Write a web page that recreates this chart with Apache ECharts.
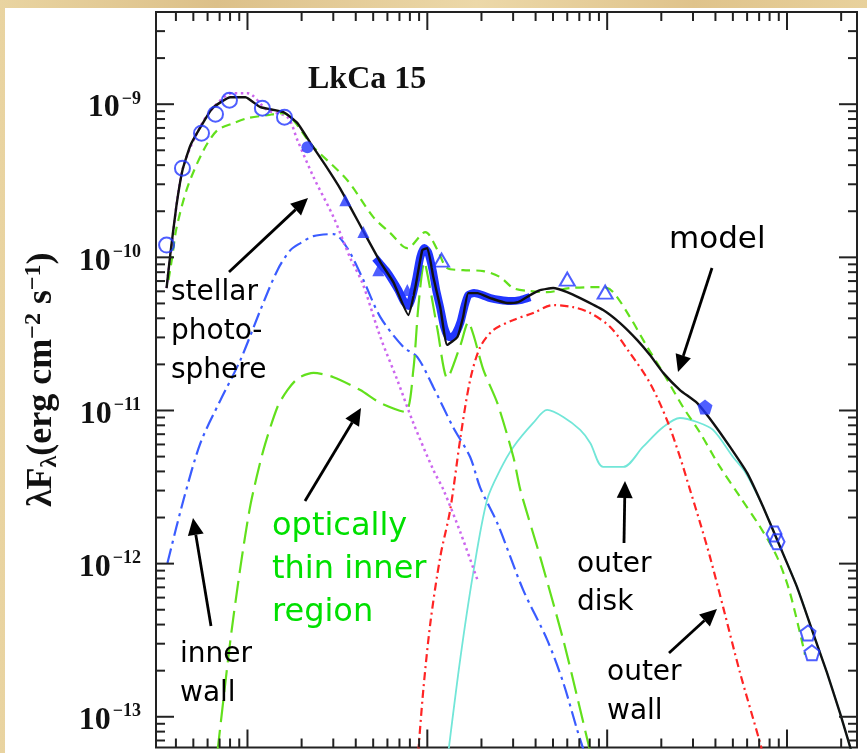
<!DOCTYPE html>
<html>
<head>
<meta charset="utf-8">
<script src="https://cdn.jsdelivr.net/npm/echarts@6/dist/echarts.min.js"></script>
<style>
  html, body { margin: 0; padding: 0; }
  body {
    width: 867px; height: 753px; overflow: hidden; position: relative;
    background: linear-gradient(90deg, #e9d4a1 0%, #dcc089 25%, #ecd8a8 55%, #dfc38b 80%, #e8d19c 100%);
  }
  #chart { position: absolute; left: 5px; top: 8px; width: 862px; height: 745px; background: #fff; }
</style>
</head>
<body>
<div id="chart"></div>
<script>
// LkCa 15 spectral energy distribution: wavelength in µm, λFλ in erg cm^-2 s^-1

// Total disk model
const modelLam  = [0.355, 0.373, 0.403, 0.435, 0.482, 0.548, 0.639, 0.804, 0.975, 1.18, 1.585, 1.896, 2.24, 2.71, 3.29, 4.41, 5.48, 6.47, 7.85, 8.58, 9.38, 10.0, 10.8, 11.8, 12.9, 14.7, 15.8, 16.9, 19.0, 22.4, 27.8, 32.0, 37.3, 42.4, 50.1, 59.9, 70.8, 95.0, 118, 147, 173, 205, 254, 316, 388, 482, 600, 736, 915, 1136, 1395, 1668, 1970, 2268];
const modelFlux = [6.30e-11, 1.066e-10, 2.19e-10, 3.71e-10, 5.40e-10, 7.08e-10, 9.42e-10, 1.111e-9, 1.11e-9, 9.56e-10, 8.87e-10, 7.52e-10, 5.57e-10, 4.00e-10, 2.79e-10, 1.48e-10, 9.31e-11, 6.89e-11, 4.20e-11, 6.39e-11, 1.115e-10, 1.149e-10, 7.43e-11, 4.73e-11, 2.68e-11, 3.02e-11, 4.07e-11, 5.84e-11, 5.84e-11, 5.42e-11, 5.03e-11, 5.10e-11, 5.67e-11, 6.11e-11, 6.30e-11, 5.93e-11, 5.42e-11, 4.53e-11, 3.72e-11, 2.88e-11, 2.30e-11, 1.76e-11, 1.36e-11, 1.12e-11, 8.29e-12, 5.78e-12, 3.91e-12, 2.35e-12, 1.29e-12, 7.05e-13, 3.53e-13, 1.94e-13, 1.06e-13, 6.09e-14];

// Alternative model (short dashes)
const altLam  = [0.364, 0.383, 0.403, 0.464, 0.570, 0.681, 0.836, 1.0, 1.29, 1.565, 2.33, 3.59, 5.01, 6.23, 7.74, 9.75, 11.4, 12.9, 15.8, 20.5, 25.4, 30.1, 37.3, 46.4, 62.3, 95.0, 108, 134, 167, 205, 264, 329, 424, 548, 708, 880, 1039, 1259];
const altFlux = [7.11e-11, 1.034e-10, 1.552e-10, 2.87e-10, 5.01e-10, 6.77e-10, 7.52e-10, 8.10e-10, 8.48e-10, 8.74e-10, 5.24e-10, 3.19e-10, 1.83e-10, 1.44e-10, 1.149e-10, 1.462e-10, 1.115e-10, 8.51e-11, 8.25e-11, 8.13e-11, 7.43e-11, 6.30e-11, 6.02e-11, 5.93e-11, 6.30e-11, 6.39e-11, 5.93e-11, 4.07e-11, 2.60e-11, 1.76e-11, 1.054e-11, 7.13e-12, 4.28e-12, 2.73e-12, 1.74e-12, 1.107e-12, 6.44e-13, 2.54e-13];

// Optically thin inner region
const thinLam  = [0.681, 0.804, 0.914, 1.039, 1.227, 1.468, 1.668, 1.92, 2.33, 3.01, 4.24, 5.48, 7.55, 8.36, 8.91, 9.62, 10.4, 11.4, 12.9, 15.3, 16.9, 18.2, 20.5, 24.5, 30.1, 32.9, 42.4, 57.0, 68.1, 80.5];
const thinFlux = [5.91e-14, 3.18e-13, 9.52e-13, 2.42e-12, 5.53e-12, 1.054e-11, 1.36e-11, 1.63e-11, 1.76e-11, 1.65e-11, 1.36e-11, 1.12e-11, 9.78e-12, 1.84e-11, 4.73e-11, 9.31e-11, 6.11e-11, 3.35e-11, 1.63e-11, 2.68e-11, 3.78e-11, 3.02e-11, 1.84e-11, 1.12e-11, 4.97e-12, 3.03e-12, 1.107e-12, 3.18e-13, 1.35e-13, 5.91e-14];

// Inner wall
const innerWallLam  = [0.359, 0.441, 0.548, 0.708, 0.914, 1.18, 1.468, 1.733, 1.97, 2.33, 3.01, 3.59, 4.41, 5.48, 7.36, 8.80, 10.8, 13.9, 17.3, 19.7, 24.5, 34.1, 46.4, 57.0, 68.1, 74.5];
const innerWallFlux = [1.011e-12, 2.61e-12, 6.14e-12, 1.17e-11, 2.14e-11, 4.53e-11, 8.25e-11, 1.115e-10, 1.239e-10, 1.376e-10, 1.418e-10, 1.149e-10, 7.11e-11, 4.07e-11, 2.60e-11, 2.23e-11, 1.42e-11, 7.80e-12, 4.97e-12, 3.12e-12, 1.84e-12, 6.74e-13, 3.18e-13, 1.67e-13, 8.22e-14, 5.91e-14];

// Stellar photosphere
const starLam  = [0.355, 0.373, 0.435, 0.548, 0.664, 0.825, 1.0, 1.29, 1.668, 1.896, 2.33, 3.01, 3.73, 4.36, 5.48, 6.81, 8.36, 10.8, 12.3, 15.3, 19.0];
const starFlux = [6.30e-11, 1.034e-10, 3.71e-10, 7.19e-10, 9.85e-10, 1.18e-9, 1.18e-9, 9.14e-10, 8.23e-10, 5.82e-10, 3.34e-10, 1.83e-10, 9.89e-11, 6.79e-11, 3.02e-11, 1.58e-11, 8.29e-12, 4.09e-12, 3.03e-12, 1.59e-12, 7.83e-13];

// Outer wall
const outerWallLam  = [8.91, 9.50, 10.4, 11.8, 13.4, 15.3, 17.3, 19.7, 23.3, 30.1, 38.8, 50.1, 64.7, 80.5, 104, 134, 173, 215, 254, 289, 329, 373, 441, 548, 708, 736];
const outerWallFlux = [5.91e-14, 1.50e-13, 4.11e-13, 1.107e-12, 2.24e-12, 6.72e-12, 1.58e-11, 2.60e-11, 3.35e-11, 3.90e-11, 4.33e-11, 4.88e-11, 4.73e-11, 4.33e-11, 3.51e-11, 2.37e-11, 1.51e-11, 8.67e-12, 4.97e-12, 3.03e-12, 1.84e-12, 1.107e-12, 5.22e-13, 1.94e-13, 6.77e-14, 5.65e-14];

// Outer disk
const outerDiskLam  = [13.1, 15.3, 18.0, 21.5, 25.4, 30.1, 38.8, 46.4, 57.0, 70.8, 80.5, 95.0, 123, 158, 205, 254, 316, 388, 501, 585, 736, 915, 1136, 1395, 1668, 1970, 2268];
const outerDiskFlux = [5.91e-14, 2.46e-13, 8.70e-13, 2.61e-12, 4.09e-12, 5.78e-12, 8.29e-12, 1.008e-11, 9.07e-12, 7.46e-12, 6.14e-12, 4.28e-12, 4.28e-12, 5.78e-12, 7.80e-12, 8.93e-12, 8.41e-12, 7.46e-12, 4.97e-12, 3.97e-12, 2.35e-12, 1.29e-12, 7.05e-13, 3.53e-13, 1.94e-13, 1.06e-13, 6.09e-14];

// IRS spectrum
const irsLam  = [5.14, 5.48, 5.92, 6.39, 6.90, 7.45, 7.85, 8.25, 8.69, 9.14, 9.62, 10.1, 10.7, 11.2, 11.8, 12.4, 13.1, 13.8, 14.5, 15.3, 16.1, 16.9, 18.2, 20.2, 22.4, 25.4, 28.9, 32.9, 37.3];
const irsFlux = [9.89e-11, 9.04e-11, 8.13e-11, 7.11e-11, 6.11e-11, 5.10e-11, 4.81e-11, 5.59e-11, 7.32e-11, 1.004e-10, 1.149e-10, 1.082e-10, 8.25e-11, 6.11e-11, 4.67e-11, 3.51e-11, 3.02e-11, 3.02e-11, 3.25e-11, 3.78e-11, 4.81e-11, 5.67e-11, 5.84e-11, 5.67e-11, 5.42e-11, 5.26e-11, 5.18e-11, 5.26e-11, 5.50e-11];

// Photometry
const opticalLam  = [0.355, 0.435, 0.555, 0.664, 0.794, 1.21, 1.606];
const opticalFlux = [1.202e-10, 3.82e-10, 6.47e-10, 8.61e-10, 1.062e-9, 9.42e-10, 8.23e-10];
const kBandLam  = [2.154];
const kBandFlux = [5.24e-10];
const iracLam  = [3.50, 4.41, 5.34, 7.74];
const iracFlux = [2.36e-10, 1.462e-10, 8.25e-11, 6.11e-11];
const irasLam  = [12.0, 60.0, 97.5];
const irasFlux = [9.60e-11, 7.21e-11, 5.93e-11];
const submmLam  = [350];
const submmFlux = [1.054e-11];
const mm850Lam  = [847, 880];
const mm850Flux = [1.56e-12, 1.39e-12];
const mm13Lam  = [1308, 1376];
const mm13Flux = [3.53e-13, 2.62e-13];

// Axis ranges and ticks
const xMin = 0.31, xMax = 2450;
const yMinFlux = 6.3e-14, yMaxFlux = 4e-9;
const yTickExponents = [-13, -12, -11, -10, -9];
const xDecades = [-1, 0, 1, 2, 3];
const yDecades = [-14, -13, -12, -11, -10, -9];
const tickMultipliers = [1, 2, 3, 4, 5, 6, 7, 8, 9];

const yLo = Math.log10(yMinFlux), yHi = Math.log10(yMaxFlux);
const pairs = (lam, flux) => lam.map((l, i) => [l, Math.log10(flux[i])]);

// tick marks: [x, y, 0 = x-axis / 1 = y-axis, major flag]
const tickData = [];
xDecades.forEach(e => tickMultipliers.forEach(m => {
  const v = m * Math.pow(10, e);
  if (v > xMin && v < xMax) tickData.push([v, yLo, 0, m === 1 ? 1 : 0]);
}));
yDecades.forEach(e => tickMultipliers.forEach(m => {
  const v = e + Math.log10(m);
  if (v > yLo && v < yHi) tickData.push([xMin, v, 1, m === 1 ? 1 : 0]);
}));

const BLUE = '#2236ff';
const GREEN = '#62e01c';

function curve(name, lam, flux, color, type, width, z, smooth) {
  return {
    name, type: 'line', data: pairs(lam, flux), showSymbol: false, symbol: 'none',
    smooth: smooth, z: z, silent: true,
    lineStyle: { color: color, width: width, type: type, cap: 'butt' }
  };
}
function points(lam, flux, symbol, size, filled, z) {
  return {
    type: 'scatter', data: pairs(lam, flux), symbol: symbol, symbolSize: size, z: z || 20, silent: true,
    itemStyle: filled ? { color: BLUE } : { color: 'rgba(255,255,255,0)', borderColor: BLUE, borderWidth: 2 }
  };
}

const pentagon = 'path://M0,-10 L9.5,-3.1 L5.9,8.1 L-5.9,8.1 L-9.5,-3.1 Z';
const hexagon = 'path://M-5,-8.7 L5,-8.7 L10,0 L5,8.7 L-5,8.7 L-10,0 Z';

// Page offsets of the white panel
const OX = 5, OY = 8;
function note(text, x, y, size, color) {
  return { type: 'text', x: x - OX, y: y - OY, z: 30, silent: true,
    style: { text: text, fontFamily: 'DejaVu Sans', fontSize: size, fill: color, align: 'left', verticalAlign: 'middle' } };
}
function arrow(x1, y1, x2, y2) {
  const a = Math.atan2(y2 - y1, x2 - x1), L = 17, W = 8;
  const bx = x2 - L * Math.cos(a), by = y2 - L * Math.sin(a);
  const s = Math.sin(a), c = Math.cos(a);
  return [
    { type: 'line', z: 30, silent: true, shape: { x1: x1 - OX, y1: y1 - OY, x2: bx - OX, y2: by - OY }, style: { stroke: '#000', lineWidth: 2.8 } },
    { type: 'polygon', z: 30, silent: true, shape: { points: [[x2 - OX, y2 - OY], [bx + W * s - OX, by - W * c - OY], [bx - W * s - OX, by + W * c - OY]] }, style: { fill: '#000' } }
  ];
}

const chart = echarts.init(document.getElementById('chart'), null, { renderer: 'canvas' });
chart.setOption({
  animation: false,
  backgroundColor: '#ffffff',
  grid: { left: 151, top: 4, right: 10, bottom: 5.5, containLabel: false, outerBoundsMode: 'none',
    show: true, borderColor: '#222', borderWidth: 2, backgroundColor: 'rgba(0,0,0,0)' },
  xAxis: {
    type: 'log', logBase: 10, min: xMin, max: xMax,
    axisLine: { show: false }, axisTick: { show: false }, axisLabel: { show: false }, splitLine: { show: false }
  },
  yAxis: {
    type: 'value', min: yLo, max: yHi, splitNumber: 5,
    axisLine: { show: false }, axisTick: { show: false }, splitLine: { show: false },
    axisLabel: {
      margin: 15,
      padding: [8, 0, 0, 0],
      formatter: function (v) {
        const e = Math.round(v);
        if (Math.abs(v - e) > 1e-6 || yTickExponents.indexOf(e) < 0) return '';
        return '{b|10}{s|\u2212' + (-e) + '}';
      },
      rich: {
        b: { fontFamily: 'Liberation Serif', fontWeight: 'bold', fontSize: 32, color: '#111', lineHeight: 36 },
        s: { fontFamily: 'Liberation Serif', fontWeight: 'bold', fontSize: 18, color: '#111', verticalAlign: 'top', lineHeight: 20, padding: [0, 0, 0, 2] }
      }
    },
    name: '{t|\u03bbF}{sub|\u03bb}{t|(erg cm}{sup|\u22122}{t| s}{sup|\u22121}{t|)}',
    nameLocation: 'middle', nameGap: 94, nameRotate: 90,
    nameTextStyle: {
      rich: {
        t: { fontFamily: 'Liberation Serif', fontWeight: 'bold', fontSize: 36, color: '#111', lineHeight: 40 },
        sub: { fontFamily: 'Liberation Serif', fontWeight: 'bold', fontSize: 24, color: '#111', verticalAlign: 'bottom', lineHeight: 24 },
        sup: { fontFamily: 'Liberation Serif', fontWeight: 'bold', fontSize: 24, color: '#111', verticalAlign: 'top', lineHeight: 24 }
      }
    }
  },
  series: [
    {
      type: 'custom', silent: true, z: 40, clip: false, data: tickData,
      encode: { x: 0, y: 1 },
      renderItem: function (params, api) {
        const cs = params.coordSys;
        const major = api.value(3) === 1;
        const len = major ? 18 : 9;
        const st = { stroke: '#222', lineWidth: 2 };
        const p = api.coord([api.value(0), api.value(1)]);
        if (api.value(2) === 0) {
          const x = p[0];
          return { type: 'group', children: [
            { type: 'line', shape: { x1: x, y1: cs.y + cs.height, x2: x, y2: cs.y + cs.height - len }, style: st },
            { type: 'line', shape: { x1: x, y1: cs.y, x2: x, y2: cs.y + len }, style: st }
          ] };
        }
        const y = p[1];
        return { type: 'group', children: [
          { type: 'line', shape: { x1: cs.x, y1: y, x2: cs.x + len, y2: y }, style: st },
          { type: 'line', shape: { x1: cs.x + cs.width, y1: y, x2: cs.x + cs.width - len, y2: y }, style: st }
        ] };
      }
    },
    curve('outer disk', outerDiskLam, outerDiskFlux, '#72e6d8', 'solid', 1.8, 3, 0.3),
    curve('outer wall', outerWallLam, outerWallFlux, '#ff2424', [8, 4, 2, 4], 2.2, 4, 0.3),
    curve('inner wall', innerWallLam, innerWallFlux, '#3a5cff', [15, 5, 3, 5], 2.2, 5, 0.3),
    curve('optically thin region', thinLam, thinFlux, GREEN, [22, 8], 2.2, 6, 0.25),
    curve('photosphere', starLam, starFlux, '#cc66ee', [2.5, 3.5], 2.5, 7, 0.3),
    curve('alternative model', altLam, altFlux, GREEN, [9, 6], 2.2, 8, 0.3),
    curve('IRS', irsLam, irsFlux, BLUE, 'solid', 8, 9, 0.2),
    curve('model', modelLam, modelFlux, '#111', 'solid', 2.4, 10, 0.15),
    points(opticalLam, opticalFlux, 'circle', 15, false),
    points(kBandLam, kBandFlux, 'circle', 12, true),
    points(iracLam, iracFlux, 'triangle', 12, true),
    points(irasLam, irasFlux, 'triangle', [15, 13], false),
    points(submmLam, submmFlux, pentagon, 15, true),
    points(mm850Lam, mm850Flux, hexagon, 15, false),
    points(mm13Lam, mm13Flux, pentagon, 15, false)
  ],
  graphic: [
    { type: 'text', x: 308 - OX, y: 80 - OY, z: 30, silent: true,
      style: { text: 'LkCa 15', fontFamily: 'Liberation Serif', fontWeight: 'bold', fontSize: 32, fill: '#111', align: 'left', verticalAlign: 'middle' } },
    note('stellar', 171, 293, 28, '#000'),
    note('photo-', 171, 332, 28, '#000'),
    note('sphere', 171, 371, 28, '#000'),
    note('model', 669, 240, 31, '#000'),
    note('optically', 272, 527, 32, '#00e000'),
    note('thin inner', 272, 570, 32, '#00e000'),
    note('region', 272, 613, 32, '#00e000'),
    note('inner', 180, 655, 28, '#000'),
    note('wall', 180, 694, 28, '#000'),
    note('outer', 577, 565, 28, '#000'),
    note('disk', 577, 603, 28, '#000'),
    note('outer', 607, 673, 28, '#000'),
    note('wall', 607, 712, 28, '#000'),
    ...arrow(229, 272, 308, 198),
    ...arrow(712, 268, 678, 372),
    ...arrow(305, 501, 361, 408),
    ...arrow(211, 626, 193, 518),
    ...arrow(624, 543, 625, 481),
    ...arrow(669, 653, 717, 609)
  ]
});
</script>
</body>
</html>
